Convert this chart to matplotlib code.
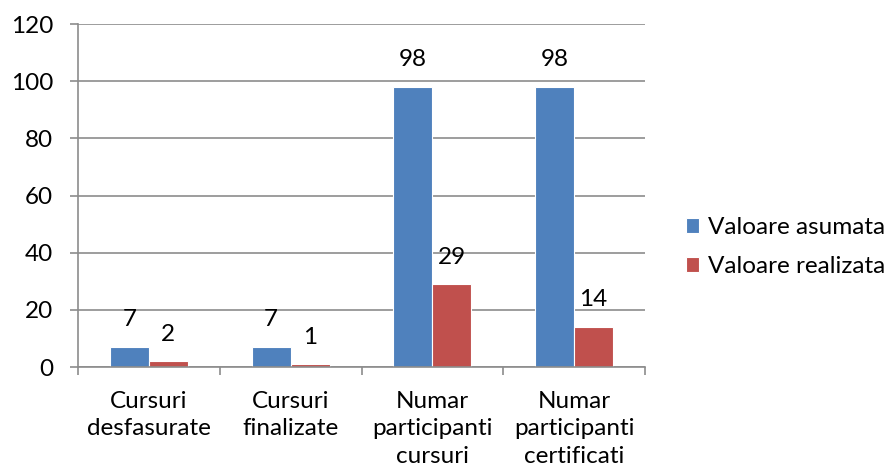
import matplotlib
matplotlib.use("Agg")
import matplotlib.pyplot as plt
import numpy as np

categories = ["Cursuri\ndesfasurate", "Cursuri\nfinalizate",
              "Numar\nparticipanti\ncursuri", "Numar\nparticipanti\ncertificati"]
asumata = [7, 7, 98, 98]
realizata = [2, 1, 29, 14]
series_names = ["Valoare asumata", "Valoare realizata"]
yticks = [0, 20, 40, 60, 80, 100, 120]

plt.rcParams["font.family"] = ["Lato", "DejaVu Sans"]
FS = 17.5
BLUE = "#4F81BD"
RED = "#C0504D"
GRID = "#8c8c8c"

fig = plt.figure(figsize=(8.94, 4.75), dpi=100)
ax = fig.add_axes([78 / 894, 1 - 367 / 475, (645 - 78) / 894, (367 - 24) / 475])

x = np.arange(len(categories))
w = 0.275
b1 = ax.bar(x - w / 2, asumata, w, color=BLUE, edgecolor="white", linewidth=0.8, label=series_names[0])
b2 = ax.bar(x + w / 2, realizata, w, color=RED, edgecolor="white", linewidth=0.8, label=series_names[1])

for bars, vals in ((b1, asumata), (b2, realizata)):
    for r, v in zip(bars, vals):
        ax.annotate(str(v), (r.get_x() + r.get_width() / 2, v), xytext=(0, 19.5),
                    textcoords="offset points", ha="center", va="center", fontsize=FS)

ax.set_xlim(-0.5, len(categories) - 0.5)
ax.set_ylim(0, 120)
ax.set_yticks(yticks)
ax.set_yticklabels([str(t) for t in yticks], fontsize=FS)
ax.yaxis.grid(True, color=GRID, linewidth=1.2)
ax.set_axisbelow(True)

ax.set_xticks(x)
ax.set_xticklabels(categories, fontsize=FS, linespacing=1.38)
ax.tick_params(axis="x", length=0, pad=17)
ax.set_xticks(np.arange(-0.5, len(categories)), minor=True)
ax.tick_params(axis="x", which="minor", length=6, color=GRID, width=1.2)
ax.tick_params(axis="y", length=6, color=GRID, width=1.2, pad=12)

for s in ("top", "right"):
    ax.spines[s].set_visible(False)
for s in ("left", "bottom"):
    ax.spines[s].set_color(GRID)
    ax.spines[s].set_linewidth(1.2)

fig.legend(handles=[b1, b2], loc="center left", bbox_to_anchor=(686 / 894, 1 - 247 / 475),
           frameon=False, fontsize=FS, handlelength=0.55, handleheight=0.55,
           handletextpad=0.35, labelspacing=0.75, borderpad=0, borderaxespad=0)

fig.savefig("out.png", dpi=100)
